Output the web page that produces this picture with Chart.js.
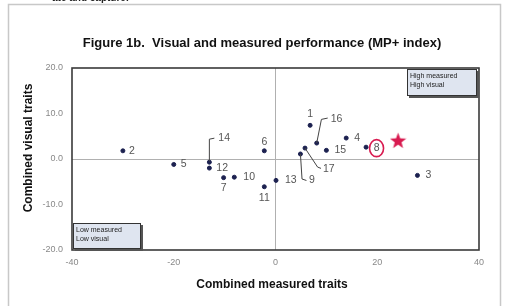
<!DOCTYPE html>
<html>
<head>
<meta charset="utf-8">
<script src="https://cdn.jsdelivr.net/npm/chart.js@4.4.1/dist/chart.umd.min.js"></script>
<style>
  html, body { margin: 0; padding: 0; background: #fff; }
  #wrap { position: relative; width: 506px; height: 306px; }
</style>
</head>
<body>
<div id="wrap"><canvas id="fig1b" width="506" height="306"></canvas></div>
<script>
// Point ids and values
const pointIds = ['1', '2', '3', '4', '5', '6', '7', '8', '9', '10', '11', '12', '13', '14', '15', '16', '17'];
const measuredTraits = [6.8, -30.0, 27.9, 13.9, -20.0, -2.2, -10.2, 17.8, 4.9, -8.1, -2.2, -13.0, 0.1, -13.0, 10.0, 8.1, 5.8];
const visualTraits = [7.4, 1.8, -3.6, 4.6, -1.2, 1.8, -4.1, 2.6, 1.1, -4.0, -6.1, -2.0, -4.7, -0.7, 1.9, 3.5, 2.4];
const starMeasured = [24.1];
const starVisual = [4.1];
const xTicks = [-40, -20, 0, 20, 40];
const yTicks = [-20, -10, 0, 10, 20];

const FONT = '"Liberation Sans", Arial, sans-serif';

// where each label sits relative to its point (dx, dy, align), plus optional leader line
const labelPlace = {
  '1': { dx: 0, dy: -11, align: 'center' },
  '2': { dx: 6, dy: 0 },
  '3': { dx: 8, dy: 0 },
  '4': { dx: 8, dy: 0 },
  '5': { dx: 7, dy: 0 },
  '6': { dx: 0, dy: -9, align: 'center' },
  '7': { dx: 0, dy: 10, align: 'center' },
  '8': { dx: 10.5, dy: 1, align: 'center' },
  '9': { dx: 8.5, dy: 26, leader: [[0, 0], [1.6, 25], [6, 26.5]] },
  '10': { dx: 9, dy: 0 },
  '11': { dx: 0, dy: 11, align: 'center' },
  '12': { dx: 7, dy: 0.5 },
  '13': { dx: 9, dy: 0 },
  '14': { dx: 9, dy: -24, leader: [[0, -1], [0, -23], [5, -24]] },
  '15': { dx: 8, dy: 0 },
  '16': { dx: 14, dy: -24, leader: [[0, 0], [4.7, -23.7], [11, -25]] },
  '17': { dx: 18, dy: 21, leader: [[0, 0], [12.6, 19], [16, 20.3]] }
};

function makeStar(size, color) {
  const c = document.createElement('canvas');
  c.width = size; c.height = size;
  const g = c.getContext('2d');
  const cx = size / 2, cy = size / 2 + 0.8, ro = size / 2, ri = size / 2 * 0.42;
  g.beginPath();
  for (let i = 0; i < 10; i++) {
    const r = i % 2 === 0 ? ro : ri;
    const a = -Math.PI / 2 + i * Math.PI / 5;
    g.lineTo(cx + r * Math.cos(a), cy + r * Math.sin(a));
  }
  g.closePath();
  g.fillStyle = color;
  g.fill();
  return c;
}

function drawNoteBox(ctx, x, y, w, h, lines) {
  ctx.save();
  ctx.fillStyle = '#555';
  ctx.fillRect(x + 2, y + 2, w, h);
  ctx.fillStyle = '#dfe5f0';
  ctx.fillRect(x, y, w, h);
  ctx.strokeStyle = '#333';
  ctx.lineWidth = 1;
  ctx.strokeRect(x + 0.5, y + 0.5, w - 1, h - 1);
  ctx.fillStyle = '#222';
  ctx.font = '7px ' + FONT;
  ctx.textBaseline = 'middle';
  ctx.textAlign = 'left';
  lines.forEach((t, i) => ctx.fillText(t, x + 3, y + 7 + i * 9));
  ctx.restore();
}

const decorations = {
  id: 'decorations',
  beforeDraw(chart) {
    const ctx = chart.ctx;
    ctx.save();
    ctx.fillStyle = '#fff';
    ctx.fillRect(0, 0, chart.width, chart.height);
    // page frame
    ctx.strokeStyle = '#c8c8c8';
    ctx.lineWidth = 1.5;
    ctx.strokeRect(8.5, 4.5, 492, 330);
    // cut-off text from the page above
    ctx.fillStyle = '#222';
    ctx.font = 'bold 10px ' + FONT;
    ctx.textBaseline = 'alphabetic';
    ctx.fillText('ate and capture.', 52, 1);
    // title
    ctx.fillStyle = '#111';
    ctx.font = 'bold 13px ' + FONT;
    ctx.textAlign = 'center';
    ctx.textBaseline = 'middle';
    ctx.fillText('Figure 1b.  Visual and measured performance (MP+ index)', 262, 43);
    // axis titles
    ctx.font = 'bold 12px ' + FONT;
    ctx.fillText('Combined measured traits', 272, 285);
    ctx.translate(29, 148);
    ctx.rotate(-Math.PI / 2);
    ctx.fillText('Combined visual traits', 0, 0);
    ctx.restore();
  },
  afterDraw(chart) {
    const ctx = chart.ctx;
    const a = chart.chartArea;
    ctx.save();
    ctx.strokeStyle = '#3a3a3a';
    ctx.lineWidth = 1.6;
    ctx.strokeRect(a.left, a.top, a.right - a.left, a.bottom - a.top);

    // point labels and leader lines
    const meta = chart.getDatasetMeta(0);
    ctx.font = '10.5px ' + FONT;
    ctx.textBaseline = 'middle';
    meta.data.forEach((el, i) => {
      const id = pointIds[i];
      const p = labelPlace[id] || { dx: 7, dy: 0 };
      if (p.leader) {
        ctx.strokeStyle = '#444';
        ctx.lineWidth = 1;
        ctx.beginPath();
        p.leader.forEach(([lx, ly], k) => {
          if (k === 0) ctx.moveTo(el.x + lx, el.y + ly);
          else ctx.lineTo(el.x + lx, el.y + ly);
        });
        ctx.stroke();
      }
      ctx.fillStyle = '#555';
      ctx.textAlign = p.align || 'left';
      ctx.fillText(id, el.x + p.dx, el.y + p.dy);
      if (id === '8') {
        ctx.strokeStyle = '#d81b50';
        ctx.lineWidth = 1.6;
        ctx.beginPath();
        ctx.ellipse(el.x + p.dx, el.y + p.dy, 7, 8.5, 0, 0, Math.PI * 2);
        ctx.stroke();
      }
    });

    drawNoteBox(ctx, 407, 69, 70, 27, ['High measured', 'High visual']);
    drawNoteBox(ctx, 73, 223, 68, 26, ['Low measured', 'Low visual']);
    ctx.restore();
  }
};

const zeroLine = ctx => (ctx.tick && ctx.tick.value === 0 ? '#b0b0b0' : 'rgba(0,0,0,0)');

new Chart(document.getElementById('fig1b').getContext('2d'), {
  type: 'scatter',
  data: {
    datasets: [{
      data: measuredTraits.map((x, i) => ({ x: x, y: visualTraits[i] })),
      backgroundColor: '#1c2150',
      borderColor: '#1c2150',
      pointRadius: 2,
      pointHoverRadius: 2
    }, {
      data: starMeasured.map((x, i) => ({ x: x, y: starVisual[i] })),
      pointStyle: makeStar(17, '#d81b50'),
      pointRadius: 8
    }]
  },
  options: {
    responsive: false,
    animation: false,
    layout: { padding: { left: 8, right: 27, top: 68, bottom: 10 } },
    plugins: {
      legend: { display: false },
      title: { display: false },
      tooltip: { enabled: false }
    },
    scales: {
      x: {
        type: 'linear',
        min: -40,
        max: 40,
        afterFit: s => { s.height = 46; },
        afterBuildTicks: s => { s.ticks = xTicks.map(v => ({ value: v })); },
        border: { display: false },
        grid: { color: zeroLine, lineWidth: 1, drawTicks: false },
        ticks: { padding: 7, color: '#888', font: { family: FONT, size: 9 } }
      },
      y: {
        type: 'linear',
        min: -20,
        max: 20,
        afterFit: s => { s.width = 64; },
        afterBuildTicks: s => { s.ticks = yTicks.map(v => ({ value: v })); },
        border: { display: false },
        grid: { color: zeroLine, lineWidth: 1, drawTicks: false },
        ticks: {
          padding: 9,
          color: '#888',
          font: { family: FONT, size: 9 },
          callback: v => Number(v).toFixed(1)
        }
      }
    }
  },
  plugins: [decorations]
});
</script>
</body>
</html>
